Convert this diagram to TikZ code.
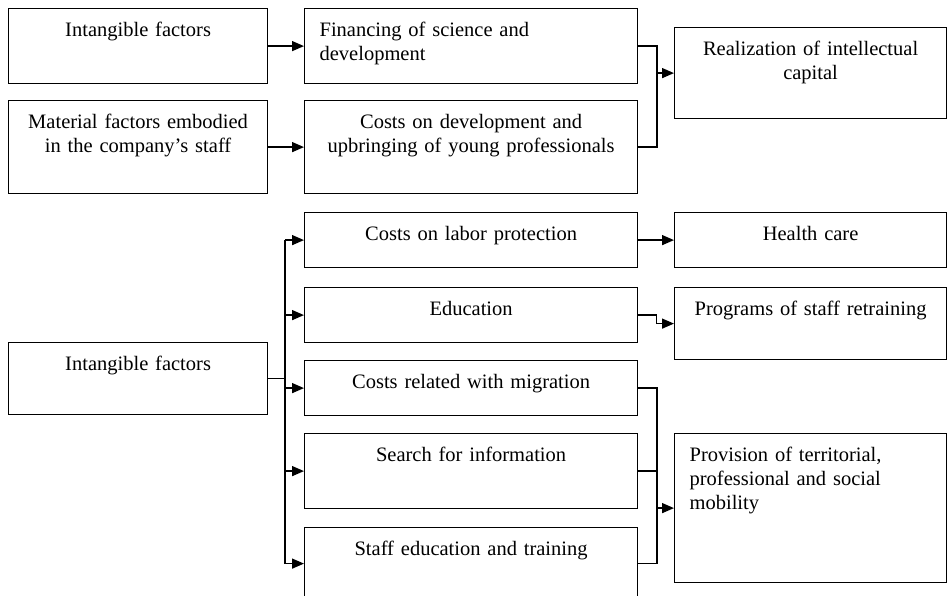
\documentclass[tikz,border=0pt]{standalone}
\usepackage{fontspec}
\setmainfont{Liberation Serif}
\usetikzlibrary{arrows.meta,calc}

\begin{document}
\begin{tikzpicture}[x=1pt,y=-1pt,
  box/.style={draw,line width=1.2pt,anchor=north west,inner xsep=15pt,inner ysep=0pt,
    text height=27.5pt,font=\fontsize{20.5pt}{24pt}\selectfont},
  lbox/.style={box,text width=229pt,align=center,text depth=#1},
  mbox/.style={box,text width=303pt,align=center,text depth=#1},
  rbox/.style={box,text width=242pt,align=center,text depth=#1},
  con/.style={line width=1.4pt},
  arr/.style={con,-{Triangle[length=12pt,width=10pt]}}]
\useasboundingbox (0,0) rectangle (948,596);

\node[lbox=47.5pt] (intTop) at (8,8) {Intangible factors};
\node[lbox=65.5pt] (material) at (8,100) {Material factors embodied\\in the company’s staff};
\node[mbox=47.5pt,align=left] (financing) at (304,8) {Financing of science and\\development};
\node[mbox=65.5pt] (young) at (304,100) {Costs on development and\\upbringing of young professionals};
\node[rbox=63.5pt] (capital) at (674,27) {Realization of intellectual\\capital};

\node[lbox=44.5pt] (intBot) at (8,342) {Intangible factors};
\node[mbox=27.5pt] (labor) at (304,212) {Costs on labor protection};
\node[mbox=27.5pt] (educ) at (304,287) {Education};
\node[mbox=27.5pt] (migr) at (304,360) {Costs related with migration};
\node[mbox=47.5pt] (search) at (304,433) {Search for information};
\node[mbox=44.5pt] (training) at (304,527) {Staff education and training};
\node[rbox=27.5pt] (health) at (674,212) {Health care};
\node[rbox=44.5pt] (retrain) at (674,287) {Programs of staff retraining};
\node[rbox=121.5pt,align=left] (mobility) at (674,433) {Provision of territorial,\\professional and social\\mobility};

\coordinate (busR) at (657,0);
\coordinate (busL) at (285,0);

\draw[arr] (intTop.east) -- (financing.west);
\draw[arr] (material.east) -- (young.west);
\draw[con] (financing.east) -| (busR |- young.east) -- (young.east);
\draw[arr] (busR |- capital.west) -- (capital.west);

\draw[con] (intBot.east) -- (busL |- intBot.east);
\draw[con] (busL |- labor.west) -- (busL |- training.west);
\foreach \n in {labor,educ,migr,search,training}
  \draw[arr] (busL |- \n.west) -- (\n.west);

\draw[arr] (labor.east) -- (health.west);
\draw[arr] (educ.east) -- ++(18,0) |- (retrain.west);
\draw[con] (migr.east) -| (busR |- training.east) -- (training.east);
\draw[con] (search.east) -- (busR |- search.east);
\draw[arr] (busR |- mobility.west) -- (mobility.west);
\end{tikzpicture}
\end{document}
